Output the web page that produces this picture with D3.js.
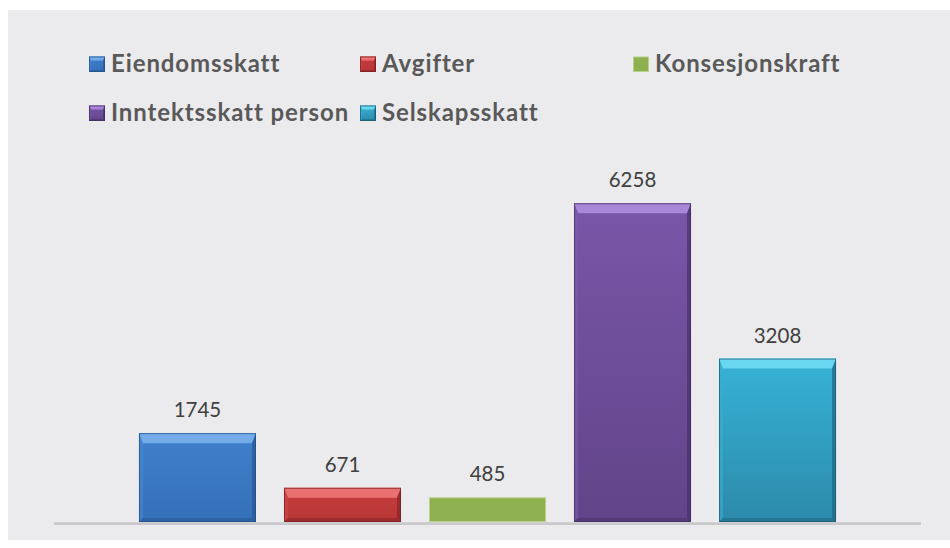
<!DOCTYPE html>
<html>
<head>
<meta charset="utf-8">
<script src="https://cdn.jsdelivr.net/npm/d3@7"></script>
<style>
  html, body { margin: 0; padding: 0; background: #ffffff; }
  svg { display: block; }
</style>
</head>
<body>
<svg id="chart" width="950" height="548"></svg>
<script>
// ---- data ----
const categories = ["Eiendomsskatt", "Avgifter", "Konsesjonskraft", "Inntektsskatt person", "Selskapsskatt"];
const values = [1745, 671, 485, 6258, 3208];
const legendRows = [["Eiendomsskatt", "Avgifter", "Konsesjonskraft"], ["Inntektsskatt person", "Selskapsskatt"]];

// ---- styles ----
const palette = {
  "Eiendomsskatt":        { top: "#3f80cc", bot: "#3570b8", hi: "#74acea", side: "#4a88d2", dark: "#2a5a96", edge: "#234e86", flat: false },
  "Avgifter":             { top: "#c63d3e", bot: "#b73536", hi: "#ea7172", side: "#cc4a4a", dark: "#8c2627", edge: "#7a2020", flat: false },
  "Konsesjonskraft":      { top: "#8fb04f", bot: "#8fb04f", hi: "#8fb04f", side: "#8fb04f", dark: "#8fb04f", edge: "#b8d28c", flat: true },
  "Inntektsskatt person": { top: "#7a56a8", bot: "#614489", hi: "#a886d8", side: "#7f5cad", dark: "#4a3369", edge: "#3f2c5c", flat: false },
  "Selskapsskatt":        { top: "#36b3d6", bot: "#2c8aab", hi: "#6ad7f0", side: "#3aaed0", dark: "#1f6a84", edge: "#1a5a70", flat: false }
};

const svg = d3.select("#chart");
const W = 950, H = 548;

// panel background
svg.append("rect").attr("x", 8).attr("y", 10).attr("width", W - 8).attr("height", 530).attr("fill", "#ebebed");

const defs = svg.append("defs");
categories.forEach((c, i) => {
  const g = defs.append("linearGradient").attr("id", "g" + i).attr("x1", 0).attr("y1", 0).attr("x2", 0).attr("y2", 1);
  g.append("stop").attr("offset", "0%").attr("stop-color", palette[c].top);
  g.append("stop").attr("offset", "100%").attr("stop-color", palette[c].bot);
});

// scales
const x = d3.scaleBand().domain(categories).range([54, 921]).paddingInner(0.193).paddingOuter(0.586);
const y = d3.scaleLinear().domain([0, 7000]).range([522, 165.5]);

function bevelBar(g, x0, y0, w, h, c, gradId, bt, bs, bb) {
  const p = palette[c];
  if (p.flat) {
    g.append("rect").attr("x", x0 + 0.5).attr("y", y0 + 0.5).attr("width", w - 1).attr("height", h - 1)
      .attr("fill", p.top).attr("stroke", p.edge).attr("stroke-width", 1);
    return;
  }
  bt = Math.min(bt, h / 2); bb = Math.min(bb, h / 2); bs = Math.min(bs, w / 2);
  const x1 = x0 + w, y1 = y0 + h;
  const ix0 = x0 + bs, ix1 = x1 - bs, iy0 = y0 + bt, iy1 = y1 - bb;
  const poly = pts => "M" + pts.map(q => q.join(",")).join("L") + "Z";
  g.append("rect").attr("x", x0).attr("y", y0).attr("width", w).attr("height", h).attr("fill", `url(#${gradId})`);
  g.append("path").attr("d", poly([[x0, y0], [x1, y0], [ix1, iy0], [ix0, iy0]])).attr("fill", p.hi);
  g.append("path").attr("d", poly([[x0, y0], [ix0, iy0], [ix0, iy1], [x0, y1]])).attr("fill", p.side).attr("opacity", 0.6);
  g.append("path").attr("d", poly([[x1, y0], [x1, y1], [ix1, iy1], [ix1, iy0]])).attr("fill", p.dark).attr("opacity", 0.75);
  g.append("path").attr("d", poly([[x0, y1], [ix0, iy1], [ix1, iy1], [x1, y1]])).attr("fill", p.dark).attr("opacity", 0.6);
  g.append("rect").attr("x", x0 + 0.5).attr("y", y0 + 0.5).attr("width", w - 1).attr("height", h - 1)
    .attr("fill", "none").attr("stroke", p.edge).attr("stroke-width", 1).attr("opacity", 0.7);
}

// bars
const barsG = svg.append("g");
categories.forEach((c, i) => {
  const v = values[i];
  const bx = x(c), bw = x.bandwidth(), by = y(v), bh = y(0) - y(v);
  bevelBar(barsG, bx, by, bw, bh, c, "g" + i, 10, 4, 4);
});

// baseline
svg.append("line").attr("x1", 54).attr("x2", 921).attr("y1", 523.6).attr("y2", 523.6)
  .attr("stroke", "#c9c9cb").attr("stroke-width", 2.6);

// value labels
svg.append("g").selectAll("text").data(categories).join("text")
  .attr("x", d => x(d) + x.bandwidth() / 2)
  .attr("y", (d, i) => y(values[i]) - 16)
  .attr("text-anchor", "middle")
  .attr("font-family", "Lato, 'Open Sans', sans-serif")
  .attr("font-size", 20.5)
  .attr("fill", "#404040")
  .text((d, i) => values[i]);

// legend
const colX = [89, 360, 633];
const rowY = [72, 121];
const leg = svg.append("g");
legendRows.forEach((row, r) => {
  row.forEach((c, k) => {
    const sx = colX[k], sy = rowY[r] - 15.5;
    const idx = categories.indexOf(c);
    bevelBar(leg, sx, sy, 16, 15.5, c, "g" + idx, 4, 2, 2);
    leg.append("text").attr("x", sx + 22).attr("y", rowY[r])
      .attr("font-family", "Lato, 'Open Sans', sans-serif")
      .attr("font-weight", "bold")
      .attr("font-size", 24)
      .attr("letter-spacing", 0.9)
      .attr("fill", "#595959")
      .text(c);
  });
});
</script>
</body>
</html>
